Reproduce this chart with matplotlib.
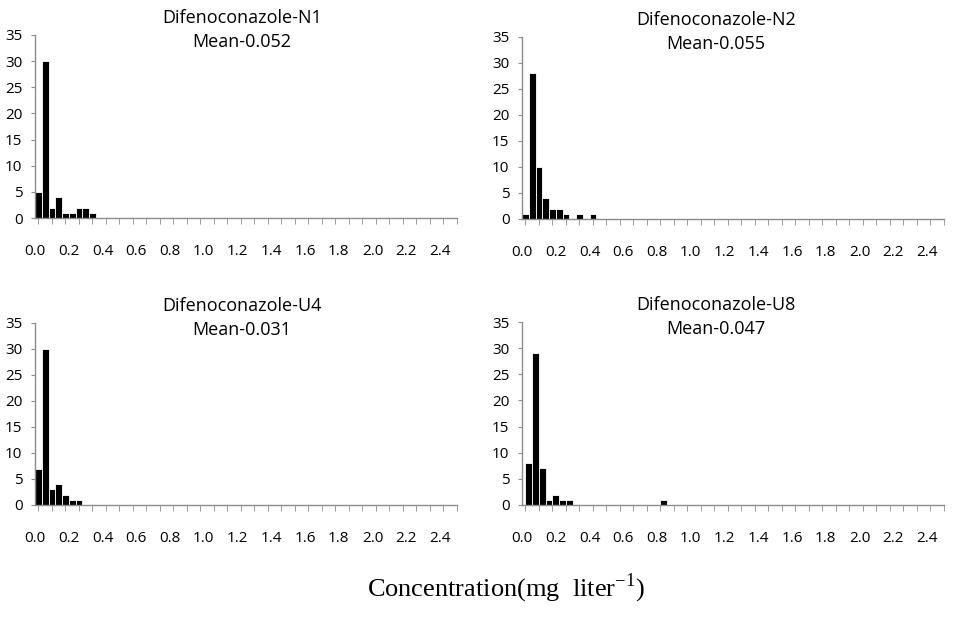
import numpy as np
import matplotlib
matplotlib.use('Agg')
import matplotlib.pyplot as plt

# DATA
bin_width = 0.04

names = ['Difenoconazole-N1', 'Difenoconazole-N2', 'Difenoconazole-U4', 'Difenoconazole-U8']
means = ['Mean-0.052', 'Mean-0.055', 'Mean-0.031', 'Mean-0.047']

# bin centres (mg/L) and counts for every sample
n1_x = [0.00, 0.04, 0.08, 0.12, 0.16, 0.20, 0.24, 0.28, 0.32]
n1_y = [5, 30, 2, 4, 1, 1, 2, 2, 1]

n2_x = [0.00, 0.04, 0.08, 0.12, 0.16, 0.20, 0.24, 0.32, 0.40]
n2_y = [1, 28, 10, 4, 2, 2, 1, 1, 1]

u4_x = [0.00, 0.04, 0.08, 0.12, 0.16, 0.20, 0.24]
u4_y = [7, 30, 3, 4, 2, 1, 1]

u8_x = [0.02, 0.06, 0.10, 0.14, 0.18, 0.22, 0.26, 0.82]
u8_y = [8, 29, 7, 1, 2, 1, 1, 1]

xtick_vals = [0.0, 0.2, 0.4, 0.6, 0.8, 1.0, 1.2, 1.4, 1.6, 1.8, 2.0, 2.2, 2.4]
ytick_vals = [0, 5, 10, 15, 20, 25, 30, 35]

series = [(n1_x, n1_y), (n2_x, n2_y), (u4_x, u4_y), (u8_x, u8_y)]

# LAYOUT (figure fractions) and title x positions (axes fraction)
W, H = 954, 617
rects = [
    (35 / W, 1 - 218 / H, 422 / W, 183 / H),
    (522 / W, 1 - 219 / H, 422 / W, 182 / H),
    (35 / W, 1 - 505 / H, 422 / W, 182 / H),
    (522 / W, 1 - 505 / H, 422 / W, 183 / H),
]
title_x = [0.49, 0.46, 0.49, 0.46]

plt.rcParams['font.family'] = ['Open Sans', 'DejaVu Sans']
grey = '#8c8c8c'

fig = plt.figure(figsize=(W / 100, H / 100), dpi=100)

for i, (xs, ys) in enumerate(series):
  ax = fig.add_axes(rects[i])
  ax.bar(xs, ys, width=bin_width, color='black', edgecolor='white',
         linewidth=0.6, align='center')
  ax.set_xlim(0, 2.48)
  ax.set_ylim(0, 35)

  for s in ['top', 'right']:
    ax.spines[s].set_visible(False)
  for s in ['left', 'bottom']:
    ax.spines[s].set_color(grey)
    ax.spines[s].set_linewidth(1.0)

  ax.set_yticks(ytick_vals)
  ax.tick_params(axis='y', length=3, color=grey, pad=6, labelsize=11)

  # labels sit half a bin left of their value, tick marks every two bins
  ax.set_xticks([v - bin_width / 2 for v in xtick_vals])
  ax.set_xticklabels([f'{v:.1f}' for v in xtick_vals])
  ax.set_xticks(np.arange(0, 2.481, 2 * bin_width), minor=True)
  ax.tick_params(axis='x', which='major', length=0, pad=19, labelsize=11)
  ax.tick_params(axis='x', which='minor', length=4, color=grey)

  ax.text(title_x[i], 1.095, names[i], transform=ax.transAxes,
          ha='center', va='center', fontsize=13)
  ax.text(title_x[i], 0.96, means[i], transform=ax.transAxes,
          ha='center', va='center', fontsize=13)

plt.rcParams['mathtext.fontset'] = 'custom'
plt.rcParams['mathtext.rm'] = 'Liberation Serif'
fig.text(506 / W, 1 - 588 / H, r'Concentration(mg  liter$^{\mathrm{-1}}$)',
         ha='center', va='center', fontsize=19, family='Liberation Serif')

fig.savefig('out.png', dpi=100)
